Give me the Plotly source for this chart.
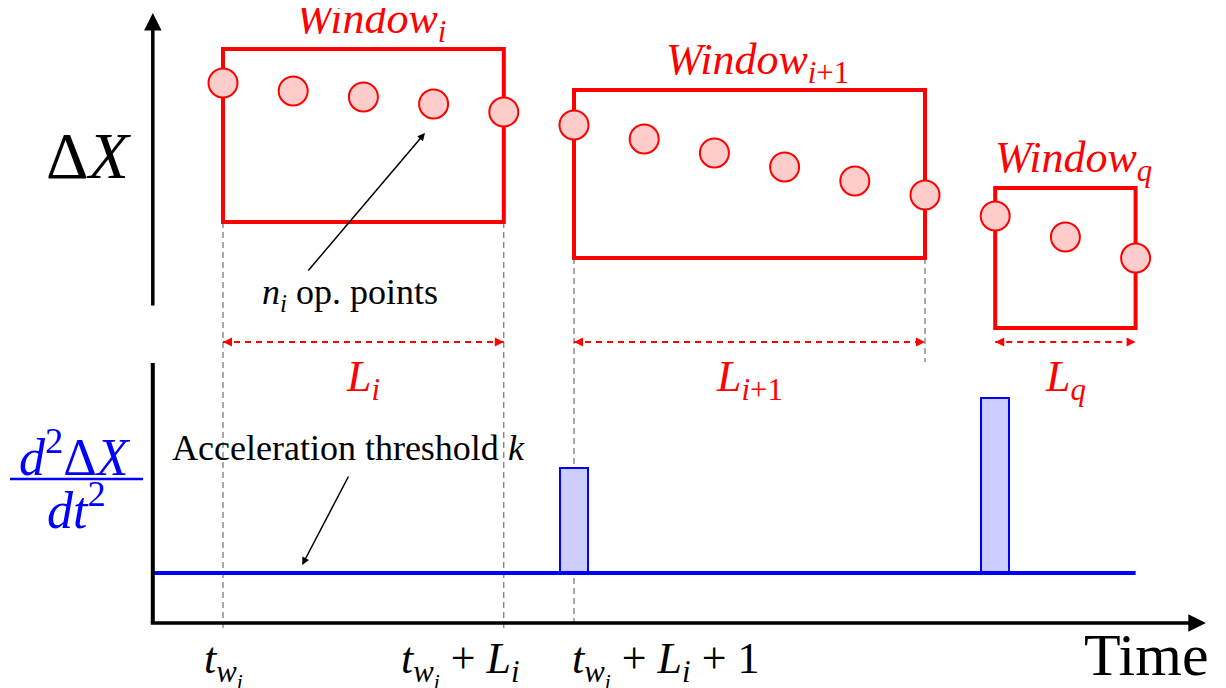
import plotly.graph_objects as go

# ---------------- data ----------------
time_idx = list(range(14))
delta_x = [22.4, 21.6, 21.0, 20.3, 19.5, 18.2, 16.8, 15.4, 14.0, 12.6, 11.2, 9.1, 7.0, 4.9]

window_names = ["i", "i+1", "q"]
window_start = [0, 5, 11]
window_end = [4, 10, 13]
window_low = [8.5, 4.9, -2.1]
window_high = [25.8, 21.7, 11.9]

accel_threshold = 5.0
spike_times = [5, 11]
spike_tops = [15.5, 22.5]

tick_times = [0, 4, 5]
tick_labels = [
    "<i>t</i><sub><i>w<sub>i</sub></i></sub>",
    "<i>t</i><sub><i>w<sub>i</sub></i></sub> + <i>L</i><sub><i>i</i></sub>",
    "<i>t</i><sub><i>w<sub>i</sub></i></sub> + <i>L</i><sub><i>i</i></sub> + 1",
]

# ---------------- frame ----------------
W, H = 1218, 680          # page body keeps an 8px margin
PX0, PX_PER_T = 215.0, 70.2
X_RANGE = [(0 - PX0) / PX_PER_T, (W - PX0) / PX_PER_T]
Y1_RANGE = [-38.1, 29.9]   # Delta X axis
Y2_RANGE = [-6.5, 61.5]    # acceleration axis
OFF = Y1_RANGE[1] - Y2_RANGE[1]  # accel -> deltaX conversion

RED = "#ff0000"
BLUE = "#0000ff"
FONT = "Liberation Serif"


def px(x):
    return x / W


def py(y):
    return 1 - y / H


fig = go.Figure()

# acceleration spikes
fig.add_trace(go.Bar(
    x=spike_times, y=[t - accel_threshold for t in spike_tops], base=accel_threshold,
    width=0.406, yaxis="y2",
    marker=dict(color="#ccccff", line=dict(color=BLUE, width=2)),
    showlegend=False, hoverinfo="skip",
))
# threshold line
fig.add_trace(go.Scatter(
    x=[-1, 13], y=[accel_threshold, accel_threshold], yaxis="y2", mode="lines",
    line=dict(color=BLUE, width=4), showlegend=False, hoverinfo="skip",
))

# L dashed double arrows
for k, name in enumerate(window_names):
    fig.add_trace(go.Scatter(
        x=[window_start[k], window_end[k]], y=[-3.5, -3.5], mode="lines+markers",
        line=dict(color=RED, width=2, dash="6px,5px"),
        marker=dict(symbol=["arrow-left", "arrow-right"], size=9, color=RED, line=dict(width=0)),
        showlegend=False, hoverinfo="skip",
    ))

# operating points
fig.add_trace(go.Scatter(
    x=time_idx, y=delta_x, mode="markers",
    marker=dict(size=29, color="#ffcccc", line=dict(color=RED, width=2)),
    showlegend=False,
))

shapes = []
for k in range(3):
    shapes.append(dict(type="rect", xref="x", yref="y",
                       x0=window_start[k], x1=window_end[k], y0=window_low[k], y1=window_high[k],
                       line=dict(color=RED, width=4), layer="below"))

grey = dict(color="#555555", width=1, dash="6px,4px")
for t, top in [(0, window_low[0]), (4, window_low[0]), (5, window_low[1])]:
    shapes.append(dict(type="line", xref="x", yref="y", x0=t, x1=t, y0=top, y1=-0.5 + OFF,
                       line=grey, layer="below"))
shapes.append(dict(type="line", xref="x", yref="y", x0=10, x1=10, y0=window_low[1], y1=-5.5,
                   line=grey, layer="below"))
# lower vertical axis line
shapes.append(dict(type="line", xref="x", yref="y2", x0=-1, x1=-1, y0=0, y1=26.0,
                   line=dict(color="black", width=4)))
# fraction bar
shapes.append(dict(type="line", xref="paper", yref="paper", x0=px(2), x1=px(135),
                   y0=py(471), y1=py(471), line=dict(color=BLUE, width=2.5)))

ann = []
# axis arrows
ann.append(dict(x=-1, y=29.4, ax=-1, ay=0, xref="x", yref="y", axref="x", ayref="y",
                showarrow=True, arrowhead=2, arrowwidth=3.5, arrowsize=1, arrowcolor="black", text=""))
ann.append(dict(x=14.0, y=0, ax=-1.05, ay=0, xref="x", yref="y2", axref="x", ayref="y2",
                showarrow=True, arrowhead=2, arrowwidth=3.5, arrowsize=1, arrowcolor="black", text=""))
# note arrows
ann.append(dict(x=2.877, y=17.4, ax=1.197, ay=3.5, xref="x", yref="y", axref="x", ayref="y",
                showarrow=True, arrowhead=2, arrowwidth=1.5, arrowsize=1, arrowcolor="black", text=""))
ann.append(dict(x=1.128, y=5.8, ax=1.798, ay=14.8, xref="x", yref="y2", axref="x", ayref="y2",
                showarrow=True, arrowhead=2, arrowwidth=1.5, arrowsize=1, arrowcolor="black", text=""))

C = dict(xanchor="center", yanchor="middle", showarrow=False)

# window labels
for k, name in enumerate(window_names):
    sub = "<i>i</i>+1" if name == "i+1" else "<i>%s</i>" % name
    cx = (window_start[k] + window_end[k]) / 2
    ann.append(dict(x=cx, y=window_high[k], xref="x", yref="y", yshift=28, xshift=8,
                    text="<i>Window</i><sub>%s</sub>" % sub,
                    font=dict(family=FONT, size=44, color=RED), **C))
    ann.append(dict(x=cx, y=-7.2, xref="x", yref="y",
                    text="<i>L</i><sub>%s</sub>" % sub,
                    font=dict(family=FONT, size=44, color=RED), **C))

# tick labels
shifts = [0, -43, 91]
for t, lab, s in zip(tick_times, tick_labels, shifts):
    ann.append(dict(x=t, y=-4.1, xref="x", yref="y2", xshift=s, text=lab,
                    font=dict(family=FONT, size=44, color="black"), **C))

ann.append(dict(x=13.16, y=-3.2, xref="x", yref="y2", text="Time",
                font=dict(family=FONT, size=60, color="black"), **C))
ann.append(dict(x=-1.923, y=15.2, xref="x", yref="y", text="Δ<i>X</i>",
                font=dict(family=FONT, size=66, color="black"), **C))
ann.append(dict(x=px(67), y=py(445), xref="paper", yref="paper",
                text="<i>d</i><sup>2</sup>Δ<i>X</i>",
                font=dict(family=FONT, size=52, color=BLUE), **C))
ann.append(dict(x=px(68), y=py(499), xref="paper", yref="paper",
                text="<i>dt</i><sup>2</sup>",
                font=dict(family=FONT, size=52, color=BLUE), **C))
ann.append(dict(x=1.809, y=1.3, xref="x", yref="y",
                text="<i>n</i><sub><i>i</i></sub> op. points",
                font=dict(family=FONT, size=36, color="black"), **C))
ann.append(dict(x=1.781, y=17.5, xref="x", yref="y2",
                text="Acceleration threshold <i>k</i>",
                font=dict(family=FONT, size=36, color="black"), **C))

fig.update_layout(
    width=W, height=H, autosize=False,
    margin=dict(l=0, r=0, t=0, b=0),
    paper_bgcolor="white", plot_bgcolor="white",
    xaxis=dict(range=X_RANGE, visible=False, fixedrange=True),
    yaxis=dict(range=Y1_RANGE, visible=False, fixedrange=True),
    yaxis2=dict(range=Y2_RANGE, visible=False, overlaying="y", fixedrange=True),
    shapes=shapes, annotations=ann, showlegend=False, bargap=0,
)

fig.write_html("out.html", config={"displayModeBar": False})
